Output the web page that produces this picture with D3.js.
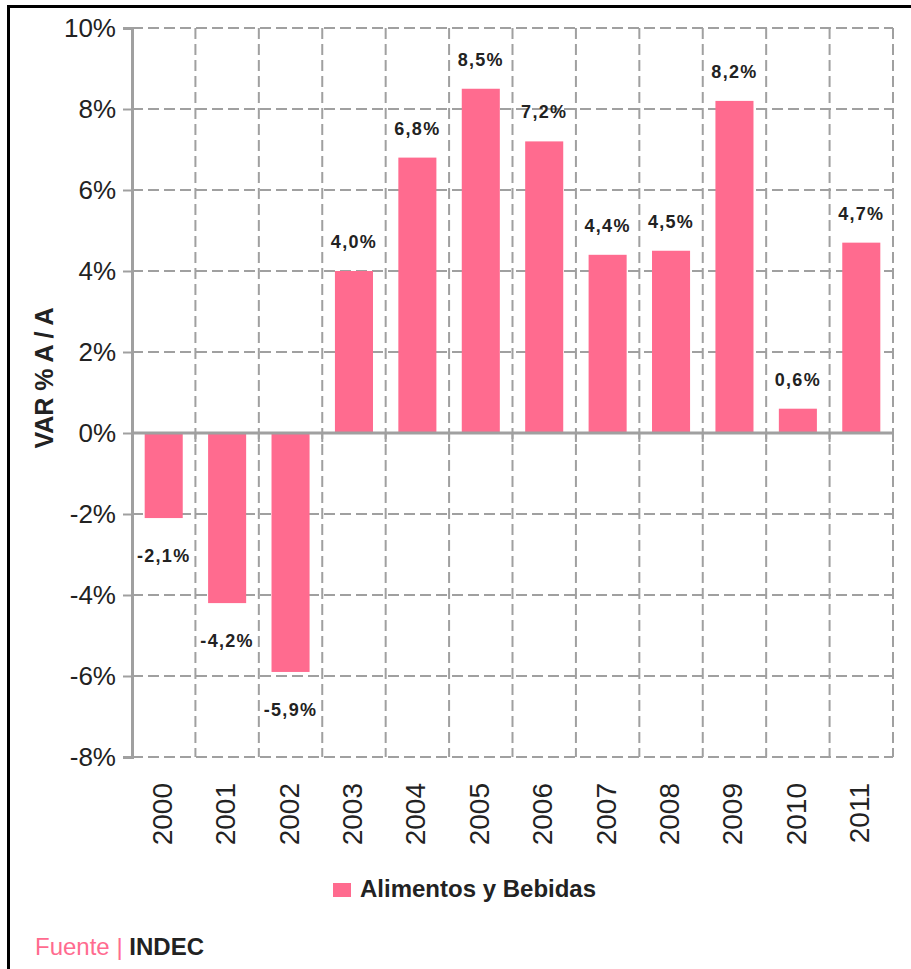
<!DOCTYPE html>
<html>
<head>
<meta charset="utf-8">
<script src="https://cdn.jsdelivr.net/npm/d3@7"></script>
<style>
  body { margin: 0; background: #fff; }
  text { font-family: "Liberation Sans", Arial, sans-serif; }
</style>
</head>
<body>
<span></span>
<script>
let width = 911;
let height = 969;

let years = ["2000", "2001", "2002", "2003", "2004", "2005", "2006", "2007", "2008", "2009", "2010", "2011"];
let values = [-2.1, -4.2, -5.9, 4.0, 6.8, 8.5, 7.2, 4.4, 4.5, 8.2, 0.6, 4.7];
let yTicks = [-8, -6, -4, -2, 0, 2, 4, 6, 8, 10];
let seriesName = "Alimentos y Bebidas";
let yTitle = "VAR % A / A";

let pink = "#ff6b8f";
let gray = "#a0a0a0";

let svg = d3.select("span")
    .append("svg")
    .attr("width", width)
    .attr("height", height);

svg.append("rect").attr("width", width).attr("height", height).attr("fill", "#fff");

// marco negro (arriba e izquierda)
svg.append("path")
    .attr("d", "M8.5," + height + "V6.5H" + width)
    .attr("fill", "none")
    .attr("stroke", "#000")
    .attr("stroke-width", 3);

let plotLeft = 132, plotRight = 893, plotTop = 28, plotBottom = 757;

let xCell = d3.scaleBand().domain(years).range([plotLeft, plotRight]);
let y = d3.scaleLinear().domain([-8, 10]).range([plotBottom, plotTop]);

// coma decimal y guion normal
let fmt = v => v.toFixed(1).replace(".", ",") + "%";

// grilla horizontal
svg.append("g").selectAll("line")
    .data(yTicks.filter(d => d !== 0))
    .join("line")
    .attr("x1", plotLeft).attr("x2", plotRight)
    .attr("y1", d => y(d)).attr("y2", d => y(d))
    .attr("stroke", gray).attr("stroke-width", 2)
    .attr("stroke-dasharray", "11,5");

// grilla vertical
let bounds = years.map(d => xCell(d) + xCell.bandwidth());
svg.append("g").selectAll("line")
    .data(bounds)
    .join("line")
    .attr("x1", d => d).attr("x2", d => d)
    .attr("y1", plotTop).attr("y2", plotBottom)
    .attr("stroke", gray).attr("stroke-width", 2)
    .attr("stroke-dasharray", "11,5");

// barras
svg.append("g").selectAll("rect")
    .data(values)
    .join("rect")
    .attr("x", (d, i) => xCell(years[i]) + xCell.bandwidth() * 0.2)
    .attr("width", xCell.bandwidth() * 0.6)
    .attr("y", d => y(Math.max(0, d)))
    .attr("height", d => Math.abs(y(d) - y(0)))
    .attr("fill", pink);

// eje cero y ticks
svg.append("line")
    .attr("x1", plotLeft).attr("x2", plotRight)
    .attr("y1", y(0)).attr("y2", y(0))
    .attr("stroke", gray).attr("stroke-width", 3);
svg.append("g").selectAll("line")
    .data(bounds)
    .join("line")
    .attr("x1", d => d).attr("x2", d => d)
    .attr("y1", y(0)).attr("y2", y(0) + 9)
    .attr("stroke", gray).attr("stroke-width", 2);

// eje y
let yAxis = svg.append("g")
    .attr("transform", "translate(" + plotLeft + ",0)")
    .call(d3.axisLeft(y).tickValues(yTicks).tickSize(9).tickPadding(7).tickFormat(d => d + "%"));
yAxis.select(".domain").attr("stroke", gray).attr("stroke-width", 3);
yAxis.selectAll(".tick line").attr("stroke", gray).attr("stroke-width", 2);
yAxis.selectAll(".tick text")
    .attr("fill", "#222")
    .style("font-size", "26px")
    .style("font-family", "'Liberation Sans', Arial, sans-serif");

// etiquetas de valores
svg.append("g").selectAll("text")
    .data(values)
    .join("text")
    .attr("x", (d, i) => xCell(years[i]) + xCell.bandwidth() / 2)
    .attr("y", d => d >= 0 ? y(d) - 23 : y(d) + 44)
    .attr("text-anchor", "middle")
    .attr("fill", "#222")
    .style("font-size", "18px")
    .style("font-weight", "bold")
    .style("letter-spacing", "1.3px")
    .text(d => fmt(d));

// etiquetas de años
svg.append("g").selectAll("text")
    .data(years)
    .join("text")
    .attr("transform", d => "translate(" + (xCell(d) + xCell.bandwidth() / 2 + 8) + ",783) rotate(-90)")
    .attr("text-anchor", "end")
    .attr("fill", "#222")
    .style("font-size", "28px")
    .text(d => d);

// título eje y
svg.append("text")
    .attr("transform", "translate(53,378) rotate(-90)")
    .attr("text-anchor", "middle")
    .attr("fill", "#222")
    .style("font-size", "25px")
    .style("font-weight", "bold")
    .text(yTitle);

// leyenda
svg.append("rect")
    .attr("x", 333).attr("y", 883)
    .attr("width", 18).attr("height", 14)
    .attr("fill", pink);
svg.append("text")
    .attr("x", 360).attr("y", 897)
    .attr("fill", "#222")
    .style("font-size", "24px")
    .style("font-weight", "bold")
    .text(seriesName);

// fuente
let src = svg.append("text")
    .attr("x", 35).attr("y", 955)
    .style("font-size", "24px");
src.append("tspan").attr("fill", pink).text("Fuente | ");
src.append("tspan").attr("fill", "#222").style("font-weight", "bold").text("INDEC");
</script>
</body>
</html>
